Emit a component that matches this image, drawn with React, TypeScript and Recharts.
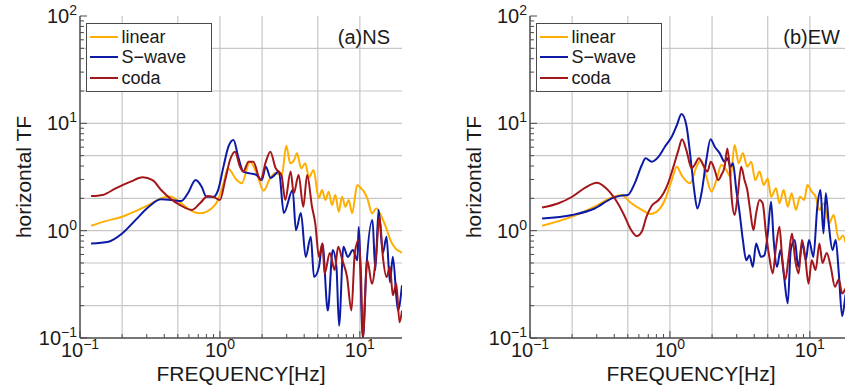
import { CartesianGrid, Legend, Line, LineChart, XAxis, YAxis } from 'recharts'

const FONT = '"Liberation Sans", Arial, Helvetica, sans-serif'

// axis ticks (decades get a label, the rest are minor marks)
const xTicks = [0.1, 0.2, 0.3, 0.4, 0.5, 0.6, 0.7, 0.8, 0.9, 1, 2, 3, 4, 5, 6, 7, 8, 9, 10]
const yTicks = [
  0.1, 0.2, 0.3, 0.4, 0.5, 0.6, 0.7, 0.8, 0.9, 1, 2, 3, 4, 5, 6, 7, 8, 9, 10, 20, 30, 40, 50, 60, 70, 80, 90, 100,
]
const xGrid = [0.2, 0.5, 1, 2, 5, 10]
const yGrid = [0.2, 0.5, 1, 2, 5, 10, 20, 50]
const decadeExp: Record<string, string> = { '0.1': '−1', '1': '0', '10': '1', '100': '2' }

const seriesNames = ['linear', 'S−wave', 'coda']
const seriesColors = ['#FFAE00', '#0C1AA6', '#A3161A']

// (a) NS
const nsLinF = [0.12, 0.15, 0.2, 0.3, 0.39, 0.44, 0.53, 0.61, 0.72, 0.87, 0.97, 1.06, 1.14, 1.32, 1.43, 1.64, 1.83, 2.05, 2.28, 2.48, 2.77, 2.98, 3.18, 3.39, 3.55, 3.81, 4.07, 4.33, 4.67, 5.08, 5.36, 5.67, 5.98, 6.32, 6.68, 7.06, 7.46, 7.88, 8.33, 8.8, 9.57, 10.2, 10.7, 11.4, 12.2, 13.1, 14.1, 15.3, 16.5, 18.0, 19.3, 20]
const nsLinV = [1.11, 1.22, 1.35, 1.7, 2.03, 2.08, 1.8, 1.56, 1.45, 1.61, 1.93, 2.76, 3.8, 2.96, 2.76, 4.39, 3.42, 2.36, 3.07, 3.42, 3.3, 6.19, 4.24, 4.55, 5.25, 3.8, 4.24, 3.14, 3.67, 2.0, 2.39, 1.93, 2.31, 1.73, 2.15, 1.5, 2.07, 1.67, 1.93, 1.45, 2.66, 2.48, 2.31, 1.93, 1.45, 1.61, 1.4, 1.09, 0.82, 0.68, 0.64, 0.62]

const nsSwF = [0.12, 0.16, 0.2, 0.25, 0.31, 0.38, 0.45, 0.53, 0.59, 0.67, 0.74, 0.8, 0.9, 0.97, 1.06, 1.15, 1.25, 1.35, 1.47, 1.64, 1.83, 1.99, 2.13, 2.3, 2.64, 2.86, 3.31, 3.49, 3.79, 4.1, 4.46, 4.7, 5.1, 5.4, 5.9, 6.4, 6.8, 7.1, 7.63, 8.2, 8.9, 9.6, 9.8, 10.5, 11.1, 12.3, 12.9, 13.6, 14.6, 15.5, 16.4, 17.2, 18.7, 20]
const nsSwV = [0.76, 0.79, 0.94, 1.26, 1.67, 1.96, 1.93, 1.89, 2.23, 2.96, 2.57, 2.07, 2.07, 2.39, 3.95, 6.06, 6.98, 4.89, 3.55, 3.42, 3.3, 2.96, 3.95, 3.1, 3.55, 1.46, 2.39, 1.01, 1.46, 0.57, 0.88, 0.37, 0.46, 0.76, 0.18, 0.66, 0.46, 0.13, 0.71, 0.57, 0.66, 0.53, 1.08, 0.1, 0.43, 1.26, 0.43, 1.57, 0.62, 0.88, 0.33, 0.57, 0.18, 0.31]

const nsCodaF = [0.12, 0.145, 0.18, 0.23, 0.28, 0.33, 0.38, 0.44, 0.52, 0.63, 0.72, 0.82, 0.92, 1.0, 1.09, 1.18, 1.28, 1.39, 1.47, 1.6, 1.73, 1.95, 2.13, 2.29, 2.5, 2.75, 2.93, 3.2, 3.37, 3.65, 3.94, 4.2, 4.55, 4.8, 5.1, 5.4, 5.6, 6.1, 6.6, 7.0, 7.5, 8.1, 8.7, 9.2, 9.8, 10.2, 10.5, 11.3, 12.2, 13.1, 13.8, 14.6, 15.5, 16.4, 17.2, 18.2, 19.2, 20]
const nsCodaV = [2.1, 2.15, 2.48, 2.86, 3.14, 2.96, 2.39, 2.0, 1.73, 1.56, 1.8, 2.1, 2.03, 1.93, 2.96, 4.55, 5.45, 3.95, 3.55, 4.39, 4.39, 2.96, 4.4, 5.44, 3.82, 3.3, 1.93, 3.55, 2.23, 3.3, 1.67, 3.3, 1.67, 1.17, 0.57, 0.76, 0.4, 0.62, 0.43, 0.71, 0.53, 0.37, 0.18, 0.62, 0.82, 0.37, 0.1, 0.53, 0.32, 0.62, 1.35, 0.57, 0.37, 0.46, 0.25, 0.32, 0.14, 0.18]

// (b) EW
const ewLinF = [0.122, 0.2, 0.29, 0.385, 0.45, 0.53, 0.63, 0.72, 0.83, 0.92, 1.03, 1.12, 1.21, 1.39, 1.55, 1.66, 1.82, 1.98, 2.15, 2.33, 2.53, 2.71, 2.9, 3.1, 3.32, 3.57, 3.81, 4.07, 4.37, 4.68, 5.0, 5.28, 5.73, 6.06, 6.5, 6.95, 7.4, 7.95, 8.5, 9.1, 9.6, 10.3, 11.0, 11.7, 12.6, 13.7, 14.8, 16.1, 17.2, 18.5, 20]
const ewLinV = [1.11, 1.35, 1.67, 2.04, 2.15, 1.8, 1.56, 1.43, 1.56, 1.93, 2.96, 3.95, 3.3, 2.76, 3.95, 4.55, 3.18, 2.31, 2.96, 4.09, 3.67, 3.18, 6.28, 4.24, 5.25, 3.95, 4.39, 2.96, 3.55, 2.66, 3.07, 2.07, 2.48, 1.8, 2.39, 1.67, 2.23, 1.56, 2.07, 1.93, 2.66, 2.31, 2.07, 1.56, 1.8, 1.17, 1.4, 0.82, 0.9, 0.7, 0.6]

const ewSwF = [0.122, 0.2, 0.29, 0.385, 0.45, 0.5, 0.56, 0.63, 0.67, 0.74, 0.83, 0.92, 1.03, 1.12, 1.21, 1.31, 1.41, 1.49, 1.57, 1.68, 1.82, 1.95, 2.09, 2.27, 2.46, 2.57, 2.71, 2.82, 2.98, 3.14, 3.32, 3.51, 3.7, 3.91, 4.13, 4.29, 4.48, 4.73, 5.0, 5.28, 5.51, 5.83, 6.16, 6.5, 6.95, 7.3, 7.8, 8.25, 8.85, 9.35, 9.85, 10.6, 11.3, 11.9, 12.5, 13.0, 13.7, 14.5, 15.3, 16.1, 17.0, 18.5, 20]
const ewSwV = [1.3, 1.4, 1.61, 2.0, 2.12, 2.15, 2.76, 4.09, 4.72, 4.39, 4.89, 6.06, 7.5, 9.6, 12.2, 9.6, 4.55, 2.39, 1.61, 2.23, 4.55, 7.1, 6.06, 5.25, 4.39, 4.72, 3.95, 4.24, 2.39, 1.5, 0.82, 0.53, 0.59, 0.46, 0.76, 0.66, 0.57, 0.59, 0.94, 1.86, 0.82, 0.46, 0.66, 0.4, 0.21, 0.66, 0.82, 0.46, 0.76, 0.53, 0.82, 0.57, 1.67, 2.39, 0.94, 2.23, 1.09, 0.66, 0.82, 0.4, 0.16, 0.3, 0.25]

const ewCodaF = [0.122, 0.16, 0.2, 0.25, 0.3, 0.345, 0.41, 0.47, 0.52, 0.58, 0.63, 0.68, 0.74, 0.83, 0.9, 0.97, 1.06, 1.15, 1.22, 1.31, 1.43, 1.5, 1.61, 1.73, 1.85, 1.96, 2.09, 2.21, 2.33, 2.46, 2.57, 2.67, 2.77, 2.9, 3.06, 3.23, 3.41, 3.57, 3.74, 3.95, 4.13, 4.37, 4.6, 4.86, 5.13, 5.43, 5.73, 6.06, 6.33, 6.68, 7.05, 7.45, 7.86, 8.31, 8.78, 9.26, 9.78, 10.3, 11.0, 11.7, 12.3, 13.2, 14.1, 15.1, 16.1, 17.0, 18.5, 20]
const ewCodaV = [1.64, 1.8, 2.07, 2.53, 2.8, 2.53, 1.93, 1.4, 1.05, 0.89, 0.98, 1.35, 1.7, 1.93, 2.23, 2.76, 3.95, 5.63, 7.1, 5.63, 3.8, 4.09, 4.72, 4.09, 3.55, 4.39, 3.67, 2.96, 3.3, 3.95, 5.83, 3.95, 1.93, 1.4, 2.23, 3.95, 2.96, 2.39, 1.56, 1.01, 1.45, 1.93, 1.8, 0.94, 0.57, 0.4, 0.71, 1.09, 0.57, 0.35, 0.57, 0.94, 0.53, 0.4, 0.82, 0.57, 0.32, 0.53, 0.43, 0.76, 0.5, 0.62, 0.46, 0.3, 0.35, 0.26, 0.3, 0.25]

const zip = (f: number[], v: number[]) => f.map((x, i) => ({ f: x, v: v[i] }))

const axisColor = '#4a4a4a'
const textColor = '#1a1a1a'

function XTick({ x, y, payload, top }: any) {
  const exp = decadeExp[String(payload.value)]
  const len = exp !== undefined ? 7 : 4
  const dir = top ? 1 : -1
  return (
    <g>
      <line x1={x} y1={y} x2={x} y2={y + dir * len} stroke={axisColor} strokeWidth={1} />
      {!top && exp !== undefined && (
        <text x={x} y={y + 19} textAnchor='middle' fontSize={20} fill={textColor}>
          10<tspan dy={-8} fontSize={14}>{exp}</tspan>
        </text>
      )}
    </g>
  )
}

function YTick({ x, y, payload, right }: any) {
  const exp = decadeExp[String(payload.value)]
  const len = exp !== undefined ? 7 : 4
  const dir = right ? -1 : 1
  return (
    <g>
      <line x1={x} y1={y} x2={x + dir * len} y2={y} stroke={axisColor} strokeWidth={1} />
      {!right && exp !== undefined && (
        <text x={x - 3} y={y + 7} textAnchor='end' fontSize={20} fill={textColor}>
          10<tspan dy={-8} fontSize={14}>{exp}</tspan>
        </text>
      )}
    </g>
  )
}

function LegendBox({ payload }: any) {
  const items = [...(payload || [])].sort(
    (a: any, b: any) => seriesNames.indexOf(a.value) - seriesNames.indexOf(b.value),
  )
  return (
    <div
      style={{
        width: 126,
        height: 69,
        boxSizing: 'border-box',
        border: `1.5px solid ${axisColor}`,
        background: '#fff',
        padding: '2.5px 0 0 2.5px',
      }}
    >
      {items.map((item: any) => (
        <div
          key={item.value}
          style={{ display: 'flex', alignItems: 'center', height: 20.5, fontSize: 18, color: textColor, lineHeight: 1 }}
        >
          <span style={{ width: 28, height: 2, background: item.color, marginRight: 4 }} />
          {item.value}
        </div>
      ))}
    </div>
  )
}

function Panel({ left, tag, series }: { left: number; tag: string; series: number[][][] }) {
  return (
    <div style={{ position: 'absolute', left, top: 0 }}>
      <LineChart width={412} height={387} margin={{ top: 16, right: 10, bottom: 0, left: 0 }}>
        <CartesianGrid
          stroke='#c6c6c6'
          strokeWidth={1.2}
          horizontalValues={yGrid}
          verticalValues={xGrid}
        />
        <XAxis
          dataKey='f'
          type='number'
          scale='log'
          domain={[0.1, 20]}
          ticks={xTicks}
          interval={0}
          allowDataOverflow
          height={49}
          tickSize={0}
          tickMargin={0}
          tickLine={false}
          axisLine={{ stroke: axisColor, strokeWidth: 1.5 }}
          tick={(p: any) => <XTick {...p} />}
          label={{ value: 'FREQUENCY[Hz]', position: 'insideBottom', offset: 6, fontSize: 21, fill: textColor }}
        />
        <XAxis
          xAxisId='top'
          orientation='top'
          type='number'
          scale='log'
          domain={[0.1, 20]}
          ticks={xTicks}
          interval={0}
          allowDataOverflow
          height={0}
          tickSize={0}
          tickMargin={0}
          tickLine={false}
          axisLine={{ stroke: axisColor, strokeWidth: 1.5 }}
          tick={(p: any) => <XTick {...p} top />}
        />
        <YAxis
          type='number'
          scale='log'
          domain={[0.1, 100]}
          ticks={yTicks}
          interval={0}
          allowDataOverflow
          width={80}
          tickSize={0}
          tickMargin={0}
          tickLine={false}
          axisLine={{ stroke: axisColor, strokeWidth: 1.5 }}
          tick={(p: any) => <YTick {...p} />}
          label={{
            value: 'horizontal TF',
            angle: -90,
            position: 'insideLeft',
            offset: 24,
            fontSize: 21,
            fill: textColor,
            style: { textAnchor: 'middle' },
          }}
        />
        <YAxis
          yAxisId='right'
          orientation='right'
          type='number'
          scale='log'
          domain={[0.1, 100]}
          ticks={yTicks}
          interval={0}
          allowDataOverflow
          width={0}
          tickSize={0}
          tickMargin={0}
          tickLine={false}
          axisLine={{ stroke: axisColor, strokeWidth: 1.5 }}
          tick={(p: any) => <YTick {...p} right />}
        />
        {series.map(([f, v], i) => (
          <Line
            key={seriesNames[i]}
            name={seriesNames[i]}
            data={zip(f, v)}
            dataKey='v'
            type='monotone'
            stroke={seriesColors[i]}
            strokeWidth={2}
            dot={false}
            activeDot={false}
            isAnimationActive={false}
          />
        ))}
        <Legend
          layout='vertical'
          align='center'
          verticalAlign='middle'
          content={(p: any) => <LegendBox {...p} />}
          wrapperStyle={{ left: 86, top: 23, width: 126, height: 69, right: 'auto', bottom: 'auto' }}
        />
      </LineChart>
      <div
        style={{
          position: 'absolute',
          left: 290,
          top: 26,
          width: 100,
          textAlign: 'right',
          fontSize: 20,
          lineHeight: '22px',
          color: textColor,
        }}
      >
        {tag}
      </div>
    </div>
  )
}

export default function App() {
  return (
    <div
      style={{
        position: 'fixed',
        left: 0,
        top: 0,
        width: 845,
        height: 387,
        overflow: 'hidden',
        background: '#fff',
        fontFamily: FONT,
      }}
    >
      <Panel
        left={0}
        tag='(a)NS'
        series={[
          [nsLinF, nsLinV],
          [nsSwF, nsSwV],
          [nsCodaF, nsCodaV],
        ]}
      />
      <Panel
        left={450}
        tag='(b)EW'
        series={[
          [ewLinF, ewLinV],
          [ewSwF, ewSwV],
          [ewCodaF, ewCodaV],
        ]}
      />
    </div>
  )
}
